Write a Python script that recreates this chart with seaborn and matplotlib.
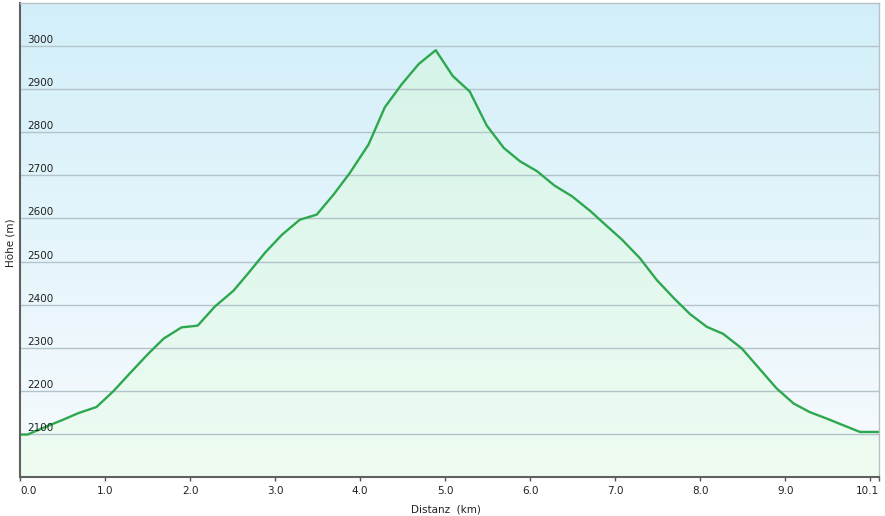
import numpy as np
import matplotlib
matplotlib.use("Agg")
from matplotlib import pyplot as plt
from matplotlib.colors import LinearSegmentedColormap
import matplotlib.transforms as mtransforms
import seaborn as sns

# elevation profile (km, m)
dist = [0.00, 0.09, 0.29, 0.49, 0.69, 0.90, 1.10, 1.31, 1.51, 1.69, 1.90, 2.09,
        2.29, 2.51, 2.69, 2.88, 3.08, 3.29, 3.49, 3.69, 3.88, 4.10, 4.29, 4.49,
        4.69, 4.89, 5.09, 5.29, 5.49, 5.69, 5.88, 6.08, 6.29, 6.49, 6.71, 6.86,
        7.08, 7.29, 7.49, 7.69, 7.88, 8.08, 8.27, 8.49, 8.71, 8.90, 9.10, 9.29,
        9.49, 9.69, 9.88, 10.10]
elev = [2098, 2098, 2115, 2131, 2148, 2162, 2199, 2244, 2286, 2321, 2347, 2351,
        2395, 2432, 2474, 2520, 2562, 2597, 2609, 2656, 2706, 2772, 2858, 2912,
        2959, 2991, 2931, 2895, 2816, 2764, 2733, 2710, 2676, 2652, 2617, 2590,
        2551, 2508, 2457, 2415, 2378, 2348, 2332, 2298, 2248, 2205, 2170, 2150,
        2135, 2119, 2104, 2104]

y_ticks = [2100, 2200, 2300, 2400, 2500, 2600, 2700, 2800, 2900, 3000]
x_ticks = [0, 1, 2, 3, 4, 5, 6, 7, 8, 9, 10, 10.1]
x_labels = ["0.0", "1.0", "2.0", "3.0", "4.0", "5.0", "6.0", "7.0", "8.0", "9.0", "10.0", "10.1"]
x_labels[10] = ""  # 10.0 label hidden behind 10.1 in the original

sns.set_style("white")
plt.rcParams['font.family'] = ['DejaVu Sans']

W, H = 885, 516
fig = plt.figure(figsize=(W / 100, H / 100), dpi=100)
ax = fig.add_axes([20 / W, 39.3 / H, 858.7 / W, 473.4 / H])

xmin, xmax, ymin, ymax = 0, 10.1, 2000, 3100
ax.set_xlim(xmin, xmax)
ax.set_ylim(ymin, ymax)

# background gradient (light blue top -> near white bottom)
bg = LinearSegmentedColormap.from_list("bg", ["#f8fbfe", "#d2eff9"])
grad = np.linspace(0, 1, 256).reshape(-1, 1)
ax.imshow(grad, extent=[xmin, xmax, ymin, ymax], origin="lower", aspect="auto",
          cmap=bg, zorder=0, interpolation="bicubic")

# green gradient fill under the curve
fill = ax.fill_between(dist, elev, ymin, color="none", lw=0)
gr = LinearSegmentedColormap.from_list("gr", ["#effcf2", "#d3f3e8"])
im = ax.imshow(grad, extent=[xmin, xmax, ymin, ymax], origin="lower", aspect="auto",
               cmap=gr, zorder=1, interpolation="bicubic")
im.set_clip_path(fill.get_paths()[0], transform=ax.transData)

# horizontal grid lines
for v in y_ticks:
    ax.axhline(v, color="#b3c3cb", lw=1, zorder=2)

sns.lineplot(x=dist, y=elev, ax=ax, color="#2ea84f", lw=1.7, zorder=4)

# y labels sit inside the plot, just above each grid line
off = mtransforms.offset_copy(ax.get_yaxis_transform(), fig=fig, x=7, y=3, units="dots")
for v in y_ticks:
    ax.text(0, v, str(v), transform=off, fontsize=7.5, color="#222222",
            ha="left", va="baseline", zorder=5)
ax.set_yticks([])

ax.set_xticks(x_ticks)
ax.set_xticklabels(x_labels, fontsize=7.5, color="#222222")
ax.tick_params(axis="x", direction="out", length=3, width=1, color="#555555", pad=4,
               bottom=True)
tl = ax.get_xticklabels()
tl[0].set_ha("left")
tl[-1].set_ha("right")

for s in ["left", "bottom"]:
    ax.spines[s].set_color("#606060")
    ax.spines[s].set_linewidth(1.5)
for s in ["top", "right"]:
    ax.spines[s].set_color("#b8c0c4")
    ax.spines[s].set_linewidth(1)
for s in ax.spines.values():
    s.set_visible(True)
    s.set_zorder(6)

ax.set_xlabel("Distanz  (km)", fontsize=7.5, color="#222222")
ax.xaxis.set_label_coords(0.4955, -0.058)
ax.set_ylabel("Höhe (m)", fontsize=7.5, color="#222222")
ax.yaxis.set_label_coords(-0.0058, 0.494)

fig.savefig("out.png", dpi=100)
